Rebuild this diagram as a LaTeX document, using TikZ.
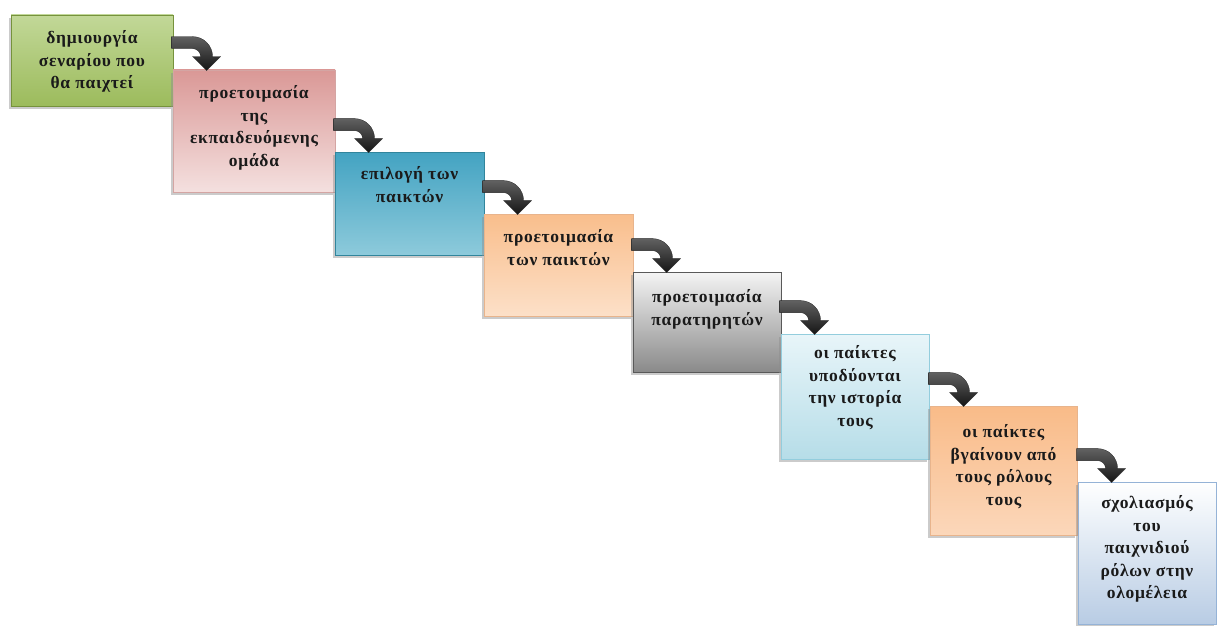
\documentclass[tikz,border=0pt]{standalone}
\usepackage{fontspec}
\setmainfont[LetterSpace=4]{Liberation Serif}
\usetikzlibrary{calc,shadows}

% stage colours: top, bottom, border
\definecolor{gTop}{HTML}{C2D898}\definecolor{gBot}{HTML}{9CBB5C}\definecolor{gLine}{HTML}{76923C}
\definecolor{rTop}{HTML}{DA9896}\definecolor{rBot}{HTML}{F4E0DF}\definecolor{rLine}{HTML}{D4A5A3}
\definecolor{bTop}{HTML}{43A3C2}\definecolor{bBot}{HTML}{8DCADB}\definecolor{bLine}{HTML}{31859C}
\definecolor{oTop}{HTML}{F9BE8C}\definecolor{oBot}{HTML}{FCE0C8}\definecolor{oLine}{HTML}{E8B48C}
\definecolor{kTop}{HTML}{F4F4F4}\definecolor{kBot}{HTML}{8A8A8A}\definecolor{kLine}{HTML}{595959}
\definecolor{cTop}{HTML}{E8F5F9}\definecolor{cBot}{HTML}{B6DDE8}\definecolor{cLine}{HTML}{93CDDD}
\definecolor{pTop}{HTML}{F9BB88}\definecolor{pBot}{HTML}{FBD7BA}\definecolor{pLine}{HTML}{E8B48C}
\definecolor{sTop}{HTML}{FFFFFF}\definecolor{sBot}{HTML}{B8CCE4}\definecolor{sLine}{HTML}{95B3D7}
\definecolor{ink}{HTML}{1A1A1A}

\begin{document}
\begin{tikzpicture}[x=1pt,y=-1pt,
  stagebox/.style n args={3}{draw=#3, line width=0.8pt, top color=#1, bottom color=#2,
    inner sep=0pt, rectangle,
    drop shadow={shadow xshift=-2pt, shadow yshift=-3pt, fill=black!45, opacity=0.45}},
  stagetext/.style={anchor=north, inner sep=0pt, align=center, text=ink,
    font=\fontsize{17.5}{22.5}\selectfont\bfseries},
  bendfill/.style={top color=black!62, bottom color=black!92, draw=black!85, line width=0.3pt},
  bend/.pic={
    \path[bendfill] (-1,-33) -- (20,-33) .. controls (31,-33) and (40,-24) .. (40,-13)
      -- (48,-13) -- (34,1) -- (20,-13) -- (28,-13)
      .. controls (28,-17.4) and (24.4,-21) .. (20,-21) -- (-1,-21) -- cycle;
  }]

\useasboundingbox (0,0) rectangle (1219,626);

% the eight stages, stepping down to the right
\node[stagebox={gTop}{gBot}{gLine}, minimum width=162pt, minimum height=91pt]  (b1) at (92,60.5) {};
\node[stagebox={rTop}{rBot}{rLine}, minimum width=162pt, minimum height=122pt] (b2) at (254,131) {};
\node[stagebox={bTop}{bBot}{bLine}, minimum width=149pt, minimum height=103pt] (b3) at (409.5,203.5) {};
\node[stagebox={oTop}{oBot}{oLine}, minimum width=149pt, minimum height=102pt] (b4) at (558.5,265) {};
\node[stagebox={kTop}{kBot}{kLine}, minimum width=148pt, minimum height=100pt] (b5) at (707,322) {};
\node[stagebox={cTop}{cBot}{cLine}, minimum width=148pt, minimum height=125pt] (b6) at (855,396.5) {};
\node[stagebox={pTop}{pBot}{pLine}, minimum width=147pt, minimum height=129pt] (b7) at (1003.5,470.5) {};
\node[stagebox={sTop}{sBot}{sLine}, minimum width=138pt, minimum height=142pt] (b8) at (1147,553) {};

% captions
\node[stagetext] (t1) at ($(b1.north)+(0,16)$) {δημιουργία\\σεναρίου που\\θα παιχτεί};
\node[stagetext] (t2) at ($(b2.north)+(0,16)$) {προετοιμασία\\της\\εκπαιδευόμενης\\ομάδα};
\node[stagetext] (t3) at ($(b3.north)+(0,15)$) {επιλογή των\\παικτών};
\node[stagetext] (t4) at ($(b4.north)+(0,16)$) {προετοιμασία\\των παικτών};
\node[stagetext] (t5) at ($(b5.north)+(0,18)$) {προετοιμασία\\παρατηρητών};
\node[stagetext] (t6) at ($(b6.north)+(0,12)$) {οι παίκτες\\υποδύονται\\την ιστορία\\τους};
\node[stagetext] (t7) at ($(b7.north)+(0,19)$) {οι παίκτες\\βγαίνουν από\\τους ρόλους\\τους};
\node[stagetext] (t8) at ($(b8.north)+(0,14)$) {σχολιασμός\\του\\παιχνιδιού\\ρόλων στην\\ολομέλεια};

% bent arrows leading from each stage onto the next one
\foreach \n in {2,...,8} {
  \pic at (b\n.north west) {bend};
}
\end{tikzpicture}
\end{document}
